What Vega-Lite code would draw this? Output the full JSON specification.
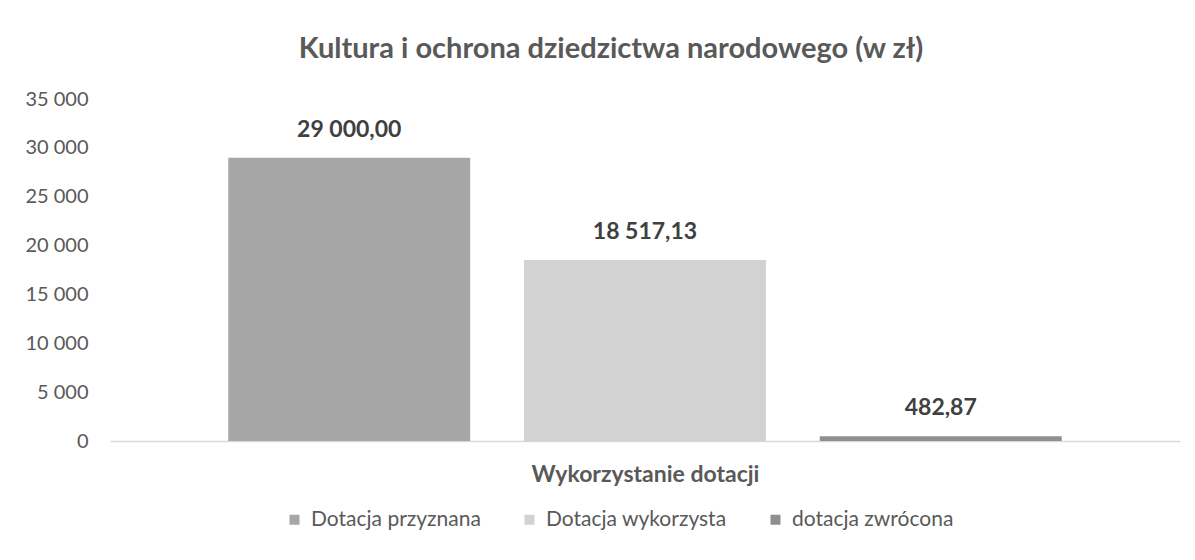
{
  "$schema": "https://vega.github.io/schema/vega-lite/v6.json",
  "autosize": {"type": "none"},
  "width": 1070,
  "height": 342,
  "padding": {"left": 110, "top": 99, "right": 15, "bottom": 119},
  "background": "white",
  "config": {
    "locale": {"number": {"decimal": ",", "thousands": " ", "grouping": [3], "currency": ["", " zł"]}},
    "font": "Lato",
    "view": {"stroke": null}
  },
  "title": {
    "text": "Kultura i ochrona dziedzictwa narodowego (w zł)",
    "fontSize": 29,
    "fontWeight": "bold",
    "color": "#595959",
    "font": "Lato",
    "offset": 25,
    "dx": -34
  },
  "data": {
    "values": [
      {"seria": "Dotacja przyznana", "kwota": 29000},
      {"seria": "Dotacja wykorzysta", "kwota": 18517.13},
      {"seria": "dotacja zwrócona", "kwota": 482.87}
    ]
  },
  "encoding": {
    "x": {
      "field": "seria",
      "type": "nominal",
      "sort": null,
      "scale": {"paddingInner": 0.182, "paddingOuter": 0.4},
      "axis": {
        "title": "Wykorzystanie dotacji",
        "labels": false,
        "ticks": false,
        "domainColor": "#d9d9d9",
        "domainWidth": 1.5,
        "titleFontSize": 23,
        "titleFontWeight": "bold",
        "titleColor": "#595959",
        "titlePadding": 22
      }
    },
    "y": {
      "field": "kwota",
      "type": "quantitative",
      "scale": {"domain": [0, 35000]},
      "axis": {
        "title": null,
        "values": [0, 5000, 10000, 15000, 20000, 25000, 30000, 35000],
        "format": ",d",
        "grid": false,
        "domain": false,
        "ticks": false,
        "labelPadding": 22,
        "labelFontSize": 20,
        "labelColor": "#595959"
      }
    }
  },
  "layer": [
    {
      "mark": {"type": "bar"},
      "encoding": {
        "color": {
          "field": "seria",
          "type": "nominal",
          "sort": null,
          "scale": {"range": ["#a6a6a6", "#d2d2d2", "#8f8f8f"]},
          "legend": {
            "title": null,
            "orient": "none",
            "direction": "horizontal",
            "legendX": 174,
            "legendY": 410,
            "symbolType": "square",
            "symbolSize": 100,
            "symbolStrokeWidth": 0,
            "labelFontSize": 21,
            "labelLimit": 400,
            "labelColor": "#595959",
            "columnPadding": 38,
            "labelOffset": 6
          }
        }
      }
    },
    {
      "mark": {"type": "text", "baseline": "bottom", "dy": -16, "fontSize": 23, "fontWeight": "bold", "color": "#404040"},
      "encoding": {
        "text": {"field": "kwota", "type": "quantitative", "format": ",.2f"}
      }
    }
  ]
}
